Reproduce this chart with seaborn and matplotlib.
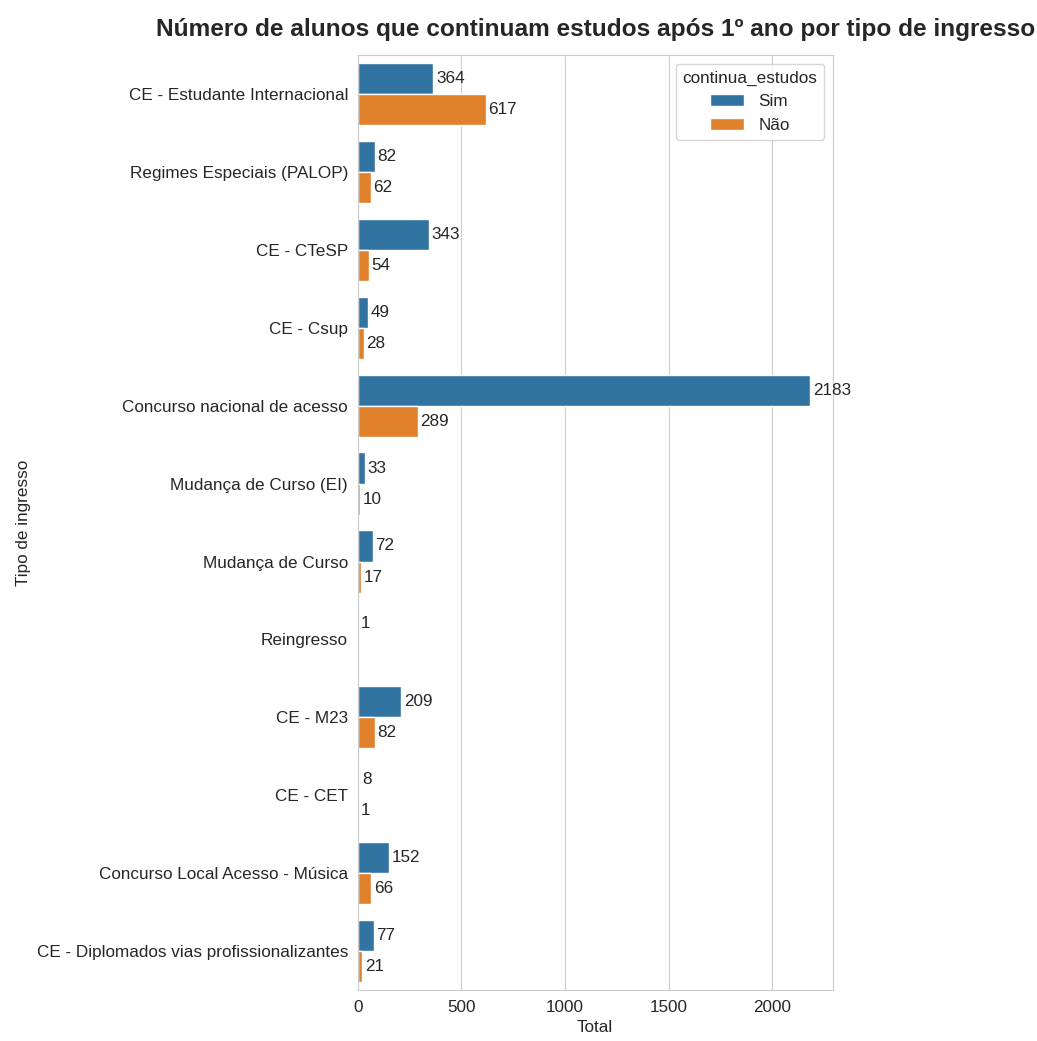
import matplotlib.pyplot as plt
import pandas as pd
import seaborn as sns

tipos = [
    "CE - Estudante Internacional",
    "Regimes Especiais (PALOP)",
    "CE - CTeSP",
    "CE - Csup",
    "Concurso nacional de acesso",
    "Mudança de Curso (EI)",
    "Mudança de Curso",
    "Reingresso",
    "CE - M23",
    "CE - CET",
    "Concurso Local Acesso - Música",
    "CE - Diplomados vias profissionalizantes",
]
sim = [364, 82, 343, 49, 2183, 33, 72, 1, 209, 8, 152, 77]
nao = [617, 62, 54, 28, 289, 10, 17, None, 82, 1, 66, 21]

rows = []
for t, s, n in zip(tipos, sim, nao):
    rows.append({"tipo_ingresso": t, "continua_estudos": "Sim", "Total": s})
    if n is not None:
        rows.append({"tipo_ingresso": t, "continua_estudos": "Não", "Total": n})
df = pd.DataFrame(rows)

sns.set_style("whitegrid")
plt.rcParams["font.family"] = ["Liberation Sans", "DejaVu Sans"]
fig, ax = plt.subplots(figsize=(10.37, 10.41), dpi=100)
fig.subplots_adjust(left=0.345, right=0.803, top=0.947, bottom=0.049)

sns.barplot(data=df, y="tipo_ingresso", x="Total", hue="continua_estudos",
            order=tipos, hue_order=["Sim", "Não"], orient="h", ax=ax)
for c in ax.containers:
    ax.bar_label(c, padding=2, fontsize=12.3)

ax.set_title("Número de alunos que continuam estudos após 1º ano por tipo de ingresso",
             fontsize=17.6, fontweight="bold", pad=14)
ax.set_xlabel("Total", fontsize=12.3)
ax.set_ylabel("Tipo de ingresso", fontsize=12.3)
ax.tick_params(labelsize=12.3)
ax.legend(title="continua_estudos", loc="upper right", fontsize=12.3, title_fontsize=12.3)

plt.savefig("out.png", dpi=100)
